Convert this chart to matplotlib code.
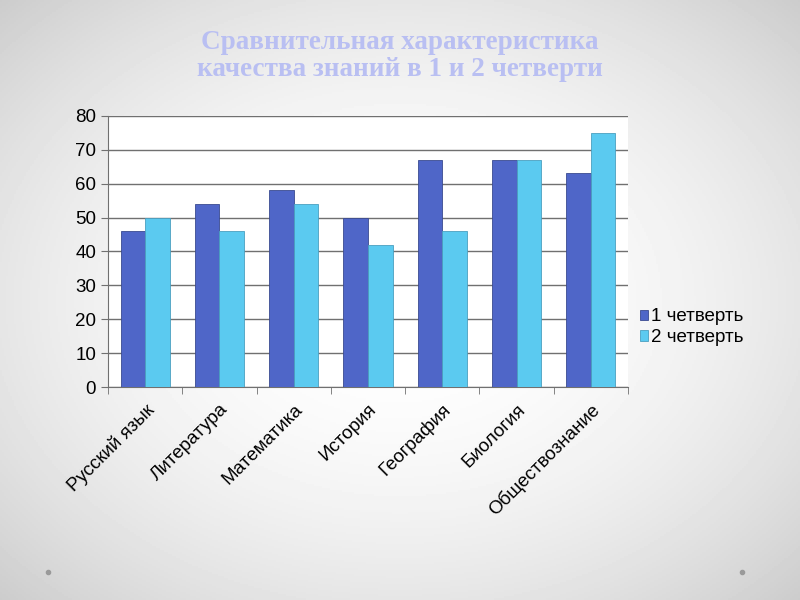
import numpy as np
import matplotlib
matplotlib.use('Agg')
import matplotlib.pyplot as plt

subjects = ['Русский язык', 'Литература', 'Математика', 'История',
            'География', 'Биология', 'Обществознание']
q1 = [46, 54, 58, 50, 67, 67, 63]
q2 = [50, 46, 54, 42, 46, 67, 75]
series_names = ['1 четверть', '2 четверть']

plt.rcParams['font.family'] = ['Liberation Sans', 'DejaVu Sans']

fig = plt.figure(figsize=(8, 6), dpi=100)

# slide background: light vignette
bg = fig.add_axes([0, 0, 1, 1], zorder=-10)
yy, xx = np.mgrid[-1:1:300j, -1:1:400j]
r = np.sqrt(xx ** 2 + yy ** 2) / np.sqrt(2)
shade = 1.0 - 0.2 * np.clip(r, 0, 1) ** 2
bg.imshow(shade, cmap='gray', vmin=0, vmax=1, aspect='auto', extent=[0, 1, 0, 1])
bg.plot([0.06, 0.928], [0.047, 0.047], 'o', color='#9a9a9a', ms=3)
bg.set_xlim(0, 1)
bg.set_ylim(0, 1)
bg.axis('off')

fig.text(0.5, 0.907, 'Сравнительная характеристика\nкачества знаний в 1 и 2 четверти',
         ha='center', va='center', fontsize=19.5, color='#b9bff2', fontweight='bold',
         family=['Liberation Serif', 'DejaVu Serif'], linespacing=1.1)

ax = fig.add_axes([0.135, 0.355, 0.65, 0.452])
ax.set_facecolor('white')
x = np.arange(len(subjects))
w = 0.33
ax.bar(x - w / 2, q1, w, color='#4f66c8', edgecolor='#3a4a90', linewidth=0.6,
       label=series_names[0], zorder=3)
ax.bar(x + w / 2, q2, w, color='#5bcaf0', edgecolor='#4a9fc0', linewidth=0.6,
       label=series_names[1], zorder=3)

ax.set_xlim(-0.5, len(subjects) - 0.5)
ax.set_ylim(0, 80)
ax.set_yticks(range(0, 81, 10))
ax.yaxis.grid(True, color='#707070', linewidth=1, zorder=0)
ax.set_axisbelow(True)
for s in ['top', 'right']:
    ax.spines[s].set_visible(False)
ax.spines['left'].set_color('#707070')
ax.spines['bottom'].set_color('#707070')

ax.set_xticks(x)
ax.set_xticklabels(subjects, rotation=45, ha='right', rotation_mode='anchor', fontsize=13.5)
ax.set_xticks(np.arange(-0.5, len(subjects)), minor=True)
ax.tick_params(axis='x', which='major', length=0, pad=10)
ax.tick_params(axis='x', which='minor', length=5, color='#707070')
ax.tick_params(axis='y', labelsize=13.5, length=5, color='#707070')

ax.legend(loc='center left', bbox_to_anchor=(0.99, 0.22), frameon=False, fontsize=13.5,
          handlelength=0.45, handleheight=0.45, handletextpad=0.15, labelspacing=0.2)

fig.savefig('out.png', dpi=100)
